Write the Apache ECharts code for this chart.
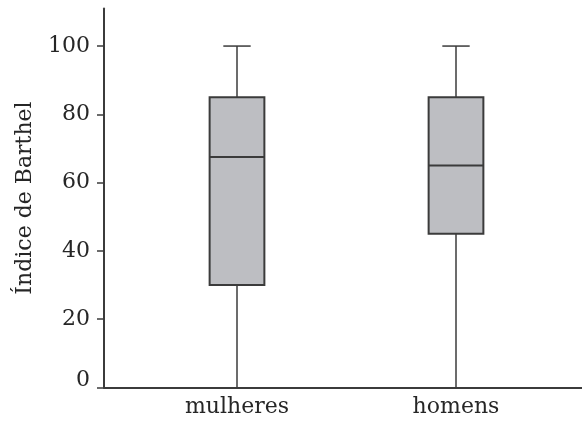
<!DOCTYPE html>
<html>
<head>
<meta charset="utf-8">
<script src="https://cdn.jsdelivr.net/npm/echarts@6/dist/echarts.min.js"></script>
<style>
  html, body { margin: 0; padding: 0; background: #fff; }
  #chart { width: 582px; height: 421px; }
</style>
</head>
<body>
<div id="chart"></div>
<script>
// Índice de Barthel por sexo: five-number summaries per group
const categories = ['mulheres', 'homens'];
const minValues    = [0, 0];
const q1Values     = [30, 45];
const medianValues = [67.5, 65];
const q3Values     = [85, 85];
const maxValues    = [100, 100];
const yTicks = [0, 20, 40, 60, 80, 100];

const FONT = 'DejaVu Serif';
const INK = '#3b3b3b';
const TEXT = '#262626';
const BOX_FILL = '#bdbec2';

const rows = categories.map((c, i) => [i, minValues[i], q1Values[i], medianValues[i], q3Values[i], maxValues[i]]);

function renderBox(params, api) {
  const x = api.value(0);
  const pMin = api.coord([x, api.value(1)]);
  const pQ1 = api.coord([x, api.value(2)]);
  const pMed = api.coord([x, api.value(3)]);
  const pQ3 = api.coord([x, api.value(4)]);
  const pMax = api.coord([x, api.value(5)]);
  const band = api.size([1, 0])[0];
  const boxW = band * 0.25;
  const capHalf = boxW / 4;
  const cx = pMed[0];
  const lineStyle = { stroke: INK, lineWidth: 1.5 };
  return {
    type: 'group',
    children: [
      { type: 'line', shape: { x1: cx, y1: pQ1[1], x2: cx, y2: pMin[1] }, style: lineStyle },
      { type: 'line', shape: { x1: cx, y1: pQ3[1], x2: cx, y2: pMax[1] }, style: lineStyle },
      { type: 'line', shape: { x1: cx - capHalf, y1: pMax[1], x2: cx + capHalf, y2: pMax[1] }, style: lineStyle },
      { type: 'line', shape: { x1: cx - capHalf, y1: pMin[1], x2: cx + capHalf, y2: pMin[1] }, style: lineStyle, invisible: api.value(1) === 0 },
      { type: 'rect', shape: { x: cx - boxW / 2, y: pQ3[1], width: boxW, height: pQ1[1] - pQ3[1] },
        style: { fill: BOX_FILL, stroke: INK, lineWidth: 2 } },
      { type: 'line', shape: { x1: cx - boxW / 2, y1: pMed[1], x2: cx + boxW / 2, y2: pMed[1] },
        style: { stroke: INK, lineWidth: 2 } }
    ]
  };
}

const chart = echarts.init(document.getElementById('chart'), null, { renderer: 'canvas' });
const Y_MAX = 111;

chart.setOption({
  animation: false,
  backgroundColor: '#fff',
  grid: [
    // frame grid carrying the axis lines and the value scale
    { left: 104, right: 0, top: 8.5, bottom: 33.5 },
    // plotting grid for the two groups
    { left: 127.5, right: 16.5, top: 8.5, bottom: 33.5 }
  ],
  xAxis: [
    {
      gridIndex: 0, type: 'value', min: 0, max: 1,
      axisLine: { show: true, lineStyle: { color: INK, width: 2 } },
      axisTick: { show: false }, axisLabel: { show: false }, splitLine: { show: false }
    },
    {
      gridIndex: 1, type: 'category', data: categories,
      axisLine: { show: false }, axisTick: { show: false }, splitLine: { show: false },
      axisLabel: { color: TEXT, fontFamily: FONT, fontSize: 22, margin: 9 }
    }
  ],
  yAxis: [
    {
      gridIndex: 0, type: 'value', min: 0, max: Y_MAX,
      name: 'Índice de Barthel', nameLocation: 'middle', nameGap: 68,
      nameTextStyle: { color: TEXT, fontFamily: FONT, fontSize: 22 },
      axisLine: { show: true, lineStyle: { color: INK, width: 2 } },
      axisTick: { show: true, length: 7, customValues: yTicks, lineStyle: { color: INK, width: 1.5 } },
      axisLabel: {
        customValues: yTicks, margin: 14, color: TEXT, fontFamily: FONT, fontSize: 22,
        formatter: v => (v === 0 ? '{z|0}' : String(v)),
        rich: { z: { fontFamily: FONT, fontSize: 22, color: TEXT, padding: [0, 0, 14, 0] } }
      },
      splitLine: { show: false }
    },
    {
      gridIndex: 1, type: 'value', min: 0, max: Y_MAX, show: false
    }
  ],
  series: [
    {
      type: 'custom',
      xAxisIndex: 1, yAxisIndex: 1,
      renderItem: renderBox,
      encode: { x: 0, y: [1, 2, 3, 4, 5] },
      data: rows,
      z: 3
    }
  ]
});
</script>
</body>
</html>
